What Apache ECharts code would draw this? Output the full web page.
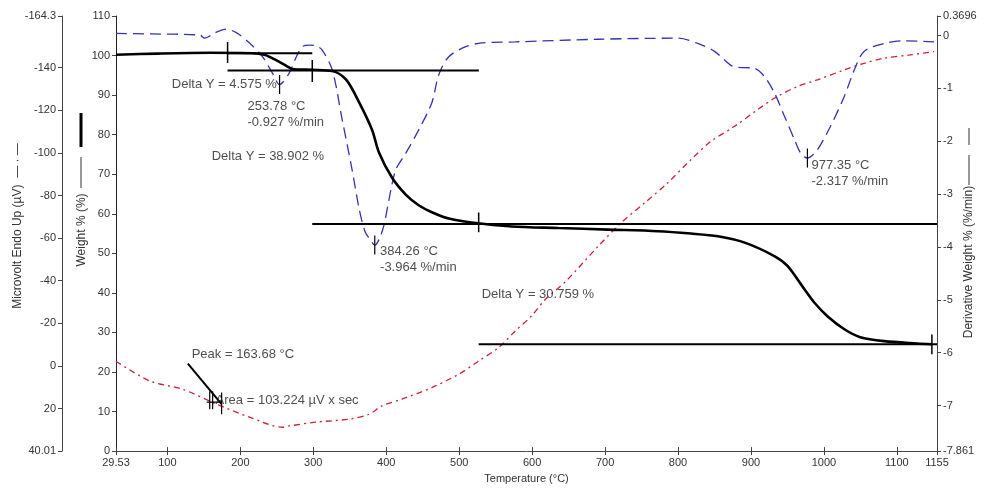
<!DOCTYPE html>
<html><head><meta charset="utf-8">
<script src="https://cdn.jsdelivr.net/npm/echarts@6/dist/echarts.min.js"></script>
<style>html,body{margin:0;padding:0;background:#fff}#c{width:986px;height:489px}</style>
</head><body><div id="c"></div>
<script>
// ---- tick labels ----
const xTicks = [29.53, 100, 200, 300, 400, 500, 600, 700, 800, 900, 1000, 1100, 1155];
const dtaTicks = [-164.3, -140, -120, -100, -80, -60, -40, -20, 0, 20, 40.01];
const dtgTicks = [0.3696, 0, -1, -2, -3, -4, -5, -6, -7, -7.861];

// ---- Weight % (black solid) ----
const weightTemp = [29.5, 86.9, 158, 216.7, 233, 244, 253.5, 263, 271, 298.6, 326, 345, 363, 380.6, 390, 408, 427, 445, 462.5, 485.7, 517, 572, 636, 704, 772.6, 817.6, 854.5, 891.4, 932, 950, 973.3, 987, 1004.8, 1028, 1049.8, 1082.6, 1127.7, 1148];
const weightPct = [100.2, 100.5, 100.7, 100.6, 100.2, 99.3, 98.4, 97.4, 96.6, 96.4, 96.1, 93.9, 88.1, 81.2, 75.5, 69.1, 64.8, 62.1, 60.4, 58.8, 57.8, 56.8, 56.4, 56.0, 55.6, 55.0, 54.3, 52.7, 49.3, 46.8, 40.9, 37.5, 34.1, 30.8, 28.8, 27.8, 27.2, 27.0];

// ---- Derivative weight (blue dashed) ----
const dtgTemp = [29.5, 76, 144.3, 151, 165, 181, 195, 212.6, 230.3, 244, 253.78, 267, 276.8, 285, 294.5, 304, 312, 326, 339.6, 353.2, 363, 371, 378, 384.26, 390, 397, 403.8, 413, 427, 444.7, 462.5, 472, 485.7, 509, 530.8, 577, 690.6, 800, 827, 850, 872, 881.8, 905, 918.7, 932, 946, 959.7, 968, 977.35, 991, 1008.9, 1028, 1041.6, 1055, 1082.6, 1110, 1151];
const dtgVal = [0.04, 0.03, 0.01, -0.05, 0.05, 0.12, 0.05, -0.14, -0.40, -0.71, -0.927, -0.71, -0.40, -0.21, -0.18, -0.20, -0.27, -0.65, -1.59, -2.54, -3.29, -3.71, -3.86, -3.964, -3.86, -3.58, -3.10, -2.54, -2.22, -1.78, -1.27, -0.74, -0.40, -0.21, -0.14, -0.12, -0.07, -0.05, -0.15, -0.30, -0.56, -0.60, -0.62, -0.78, -1.08, -1.53, -1.97, -2.22, -2.317, -2.16, -1.72, -1.15, -0.65, -0.30, -0.15, -0.10, -0.12];

// ---- Microvolt (red dash-dot) ----
const dtaTemp = [29.5, 76, 121, 167.5, 212.6, 257.6, 267, 304, 349, 376.5, 394, 421.5, 462.5, 499.4, 526.7, 554, 577, 599, 618, 645.5, 690.6, 722, 754.8, 786, 817.6, 845, 877, 909, 932, 963.8, 991, 1028, 1055, 1082.6, 1118, 1151];
const dtaVal = [-2.2, 7.1, 11.0, 18.0, 24.1, 28.8, 28.2, 26.4, 25.0, 22.7, 18.8, 15.6, 10.2, 3.9, -2.3, -8.6, -16.4, -23.4, -31.2, -39.5, -56.2, -67.2, -76.7, -86.0, -96.8, -105.4, -112.4, -120.3, -125.7, -131.2, -134.3, -139.0, -142.1, -144.5, -146.0, -147.6];

// ---- step analysis lines (weight axis) ----
const stepStart = [182.5, 182.5, 298.6, 526.7];
const stepEnd = [298.6, 527, 1155, 1155];
const stepLevel = [100.6, 96.2, 57.4, 27.0];
const stepTickTemp = [182.5, 298.6, 526.7, 1148];
const stepTickLow = [98.1, 93.3, 55.3, 24.5];
const stepTickHigh = [103.4, 98.9, 60.3, 29.5];

// ---- derivative peaks ----
const peakTemp = [253.78, 384.26, 977.35];
const peakVal = [-0.927, -3.964, -2.317];
const peakTickHalf = 0.18;

// ---- DTA peak marker (weight axis coords) ----
const peakLineTemp = [128, 174.3];
const peakLineVal = [22.1, 11.9];
const peakMarkTemp = [158, 162, 174.3];
const peakMarkLow = [10.6, 10.6, 9.3];
const peakMarkHigh = [15.1, 15.1, 14.8];
const peakBarTemp = [154, 174.3];
const peakBarVal = [12.4, 12.4];

// ---- text annotations (anchor: left edge, vertical middle; weight axis) ----
const noteTemp = [106, 209.8, 160.7, 391.5, 530.8, 983, 133.3, 166.1];
const noteVal = [92.8, 85.2, 74.4, 48.4, 39.6, 70.3, 24.5, 12.9];
const noteText = [
  'Delta Y = 4.575 %',
  '253.78 °C\n-0.927 %/min',
  'Delta Y = 38.902 %',
  '384.26 °C\n-3.964 %/min',
  'Delta Y = 30.759 %',
  '977.35 °C\n-2.317 %/min',
  'Peak = 163.68 °C',
  'Area = 103.224 µV x sec'
];

const zip = (a, b) => a.map((v, i) => [v, b[i]]);
const FONT = 'Liberation Sans, Arial, sans-serif';
const AX = '#444';

const series = [];
// curves
series.push({type:'line', xAxisIndex:0, yAxisIndex:1, data: zip(dtaTemp, dtaVal), showSymbol:false, smooth:0.3,
  lineStyle:{color:'#cc2233', width:1.3, type:[6,4,2,4]}, z:2});
series.push({type:'line', xAxisIndex:0, yAxisIndex:2, data: zip(dtgTemp, dtgVal), showSymbol:false, smooth:0.3,
  lineStyle:{color:'#3333b0', width:1.3, type:[11,6]}, z:2});
series.push({type:'line', xAxisIndex:0, yAxisIndex:0, data: zip(weightTemp, weightPct), showSymbol:false, smooth:0.3,
  lineStyle:{color:'#000', width:2.6}, z:3});
// step lines
stepStart.forEach((s, i) => {
  series.push({type:'line', yAxisIndex:0, data:[[s, stepLevel[i]], [stepEnd[i], stepLevel[i]]], showSymbol:false,
    lineStyle:{color:'#000', width:2}, z:4, silent:true});
  series.push({type:'line', yAxisIndex:0, data:[[stepTickTemp[i], stepTickLow[i]], [stepTickTemp[i], stepTickHigh[i]]], showSymbol:false,
    lineStyle:{color:'#000', width:1.5}, z:4, silent:true});
});
// derivative peak ticks
peakTemp.forEach((t, i) => {
  series.push({type:'line', yAxisIndex:2, data:[[t, peakVal[i] + peakTickHalf], [t, peakVal[i] - peakTickHalf]], showSymbol:false,
    lineStyle:{color:'#000', width:1.2}, z:4, silent:true});
});
// DTA peak marker
series.push({type:'line', yAxisIndex:0, data: zip(peakLineTemp, peakLineVal), showSymbol:false,
  lineStyle:{color:'#000', width:2}, z:4, silent:true});
peakMarkTemp.forEach((t, i) => {
  series.push({type:'line', yAxisIndex:0, data:[[t, peakMarkLow[i]], [t, peakMarkHigh[i]]], showSymbol:false,
    lineStyle:{color:'#000', width:1.2}, z:4, silent:true});
});
series.push({type:'line', yAxisIndex:0, data: zip(peakBarTemp, peakBarVal), showSymbol:false,
  lineStyle:{color:'#000', width:1.2}, z:4, silent:true});
// notes
series.push({type:'scatter', yAxisIndex:0, symbolSize:0, z:6, silent:true,
  data: noteTemp.map((t, i) => ({value:[t, noteVal[i]], name: noteText[i]})),
  label:{show:true, position:'right', distance:0, formatter: p => p.name, color:'#222',
    fontFamily: FONT, fontSize:13, lineHeight:16, align:'left'}});

const chart = echarts.init(document.getElementById('c'), null, {renderer:'canvas'});
chart.setOption({
  animation:false,
  backgroundColor:'#fff',
  grid:{left:116, right:49, top:16, bottom:37},
  xAxis:[{
    type:'value', min:29.53, max:1155, position:'bottom',
    axisLine:{show:true, onZero:false, lineStyle:{color:AX, width:1}},
    axisTick:{show:true, length:4, lineStyle:{color:AX}, customValues:xTicks},
    axisLabel:{show:true, customValues:xTicks, color:'#333', fontSize:11, fontFamily:'Liberation Sans Narrow, ' + FONT, margin:6,
      formatter: v => String(v)},
    splitLine:{show:false},
    name:'Temperature (°C)', nameLocation:'middle', nameGap:21,
    nameTextStyle:{color:'#333', fontSize:11, fontFamily:'Liberation Sans Narrow, ' + FONT}
  },{
    type:'value', min:29.53, max:1155, position:'bottom',
    axisLine:{show:false, onZero:false},
    axisTick:{show:true, inside:true, length:4, lineStyle:{color:AX}, customValues:xTicks},
    axisLabel:{show:false}, splitLine:{show:false}
  }],
  yAxis:[{
    type:'value', min:0, max:110, interval:10, position:'left', offset:0,
    axisLine:{show:true, onZero:false, lineStyle:{color:'#222', width:1}},
    axisTick:{show:true, length:4, lineStyle:{color:AX}},
    axisLabel:{color:'#333', fontSize:11, fontFamily:FONT, margin:6},
    splitLine:{show:false}
  },{
    type:'value', min:-164.3, max:40.01, inverse:true, position:'left', offset:54,
    axisLine:{show:true, onZero:false, lineStyle:{color:AX, width:1}},
    axisTick:{show:true, length:4, lineStyle:{color:AX}, customValues:dtaTicks},
    axisLabel:{customValues:dtaTicks, color:'#333', fontSize:11, fontFamily:FONT, margin:6, formatter: v => String(v)},
    splitLine:{show:false}
  },{
    type:'value', min:-7.861, max:0.3696, position:'right', offset:0,
    axisLine:{show:true, onZero:false, lineStyle:{color:AX, width:1}},
    axisTick:{show:true, length:4, lineStyle:{color:AX}, customValues:dtgTicks},
    axisLabel:{customValues:dtgTicks, color:'#333', fontSize:11, fontFamily:FONT, margin:6, formatter: v => String(v)},
    splitLine:{show:false}
  }],
  graphic:[
    {type:'text', x:18, y:226, rotation:Math.PI/2, style:{text:'Microvolt Endo Up (µV)  — · —', fill:'#333', font:'12px ' + FONT, align:'center', verticalAlign:'middle'}},
    {type:'text', x:82, y:230, rotation:Math.PI/2, style:{text:'Weight % (%)', fill:'#333', font:'12px ' + FONT, align:'center', verticalAlign:'middle'}},
    {type:'line', shape:{x1:81, y1:157, x2:81, y2:188}, style:{stroke:'#333', lineWidth:1}},
    {type:'line', shape:{x1:81, y1:113, x2:81, y2:147}, style:{stroke:'#000', lineWidth:3}},
    {type:'text', x:969, y:262, rotation:Math.PI/2, style:{text:'Derivative Weight % (%/min)', fill:'#333', font:'12px ' + FONT, align:'center', verticalAlign:'middle'}},
    {type:'line', shape:{x1:969, y1:155, x2:969, y2:185}, style:{stroke:'#333', lineWidth:1}},
    {type:'line', shape:{x1:969, y1:128, x2:969, y2:145}, style:{stroke:'#333', lineWidth:1}}
  ],
  series: series
});
</script>
</body></html>
